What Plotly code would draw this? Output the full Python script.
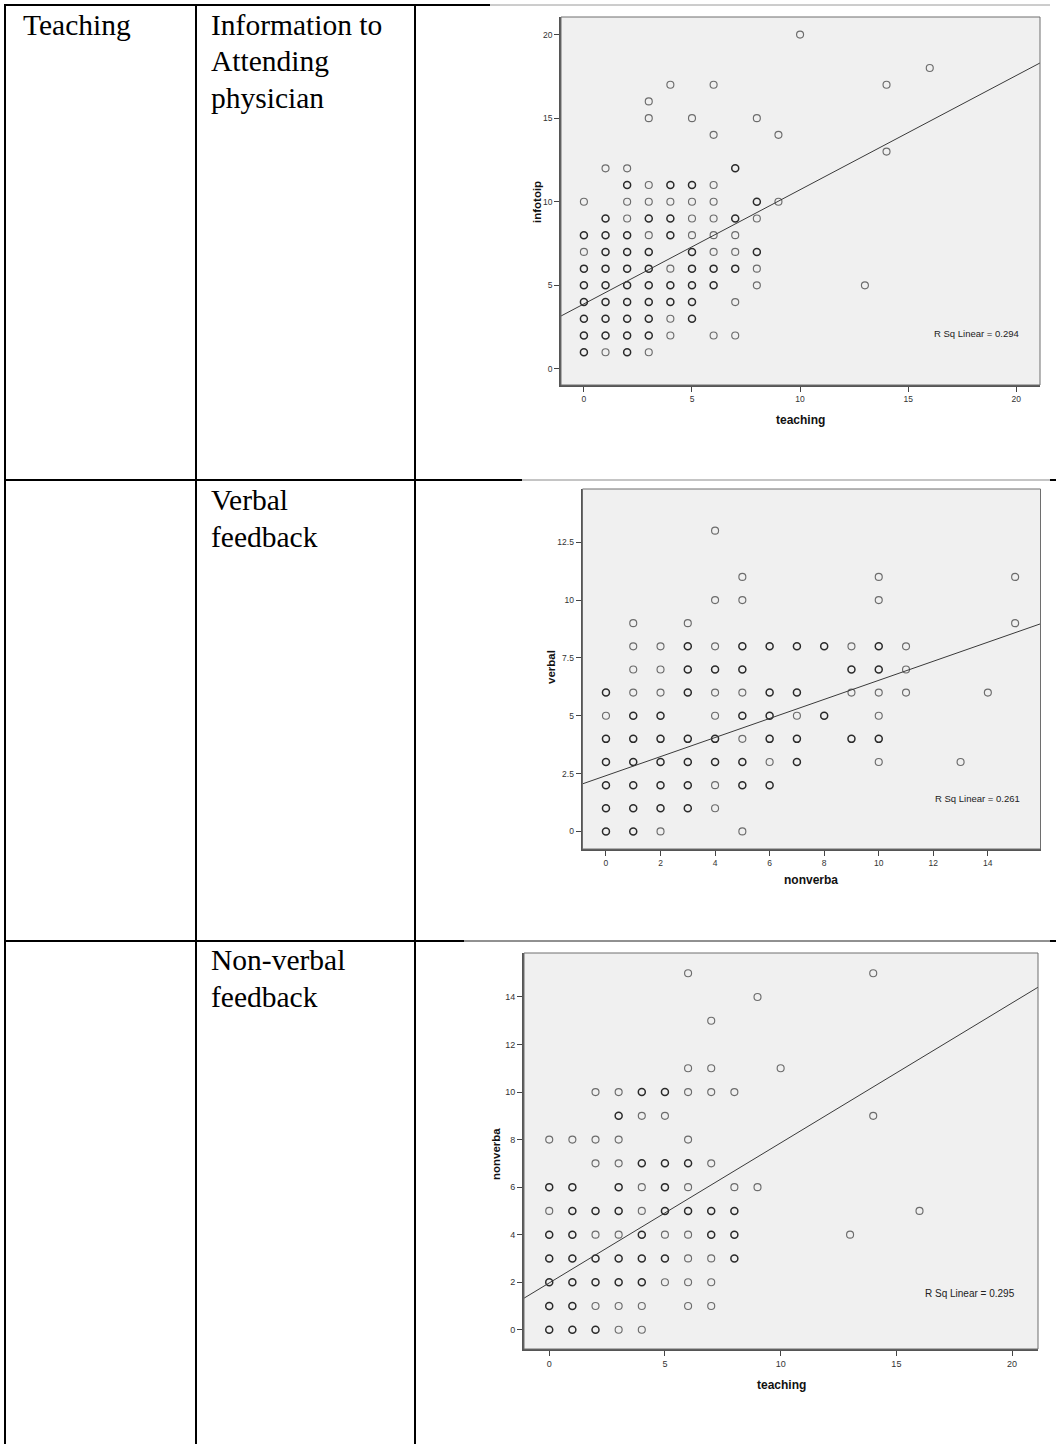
import plotly.graph_objects as go

W, H = 1056, 1444

# ---------------- table text ----------------
outcome_label = "Teaching"
row_labels = [
    ["Information to", "Attending", "physician"],
    ["Verbal", "feedback"],
    ["Non-verbal", "feedback"],
]

# ---------------- scatter 1: teaching vs infotoip ----------------
p1_rows_y = [20, 18, 17, 16, 15, 14, 13, 12, 11, 10, 9, 8, 7, 6, 5, 4, 3, 2, 1]
p1_rows_x = [
    [10],
    [16],
    [4, 6, 14],
    [3],
    [3, 5, 8],
    [6, 9],
    [14],
    [1, 2, 7],
    [2, 3, 4, 5, 6],
    [0, 2, 3, 4, 5, 6, 8, 9],
    [1, 2, 3, 4, 5, 6, 7, 8],
    [0, 1, 2, 3, 4, 5, 6, 7],
    [0, 1, 2, 3, 5, 6, 7, 8],
    [0, 1, 2, 3, 4, 5, 6, 7, 8],
    [0, 1, 2, 3, 4, 5, 6, 8, 13],
    [0, 1, 2, 3, 4, 5, 7],
    [0, 1, 2, 3, 4, 5],
    [0, 1, 2, 3, 4, 6, 7],
    [0, 1, 2, 3],
]
# cases stacked on each point (1 = single, 2 = several)
p1_rows_n = [
    [1],
    [1],
    [1, 1, 1],
    [1],
    [1, 1, 1],
    [1, 1],
    [1],
    [1, 1, 2],
    [2, 1, 2, 2, 1],
    [1, 1, 1, 1, 1, 1, 2, 1],
    [2, 1, 2, 2, 1, 1, 2, 1],
    [2, 2, 2, 1, 2, 1, 1, 1],
    [1, 2, 2, 2, 2, 1, 1, 2],
    [2, 2, 2, 2, 1, 2, 2, 2, 1],
    [2, 2, 2, 2, 2, 2, 2, 1, 1],
    [2, 2, 2, 2, 2, 2, 1],
    [2, 2, 2, 2, 1, 2],
    [2, 2, 2, 2, 1, 1, 1],
    [2, 1, 2, 1],
]

# ---------------- scatter 2: nonverba vs verbal ----------------
p2_rows_y = [13, 11, 10, 9, 8, 7, 6, 5, 4, 3, 2, 1, 0]
p2_rows_x = [
    [4],
    [5, 10, 15],
    [4, 5, 10],
    [1, 3, 15],
    [1, 2, 3, 4, 5, 6, 7, 8, 9, 10, 11],
    [1, 2, 3, 4, 5, 9, 10, 11],
    [0, 1, 2, 3, 4, 5, 6, 7, 9, 10, 11, 14],
    [0, 1, 2, 4, 5, 6, 7, 8, 10],
    [0, 1, 2, 3, 4, 5, 6, 7, 9, 10],
    [0, 1, 2, 3, 4, 5, 6, 7, 10, 13],
    [0, 1, 2, 3, 4, 5, 6],
    [0, 1, 2, 3, 4],
    [0, 1, 2, 5],
]
p2_rows_n = [
    [1],
    [1, 1, 1],
    [1, 1, 1],
    [1, 1, 1],
    [1, 1, 2, 1, 2, 2, 2, 2, 1, 2, 1],
    [1, 1, 2, 2, 2, 2, 2, 1],
    [2, 1, 1, 2, 1, 1, 2, 2, 1, 1, 1, 1],
    [1, 2, 2, 1, 2, 2, 1, 2, 1],
    [2, 2, 2, 2, 2, 1, 2, 2, 2, 2],
    [2, 2, 2, 2, 2, 2, 1, 2, 1, 1],
    [2, 2, 2, 2, 1, 2, 2],
    [2, 2, 2, 2, 1],
    [2, 2, 1, 1],
]

# ---------------- scatter 3: teaching vs nonverba ----------------
p3_rows_y = [15, 14, 13, 11, 10, 9, 8, 7, 6, 5, 4, 3, 2, 1, 0]
p3_rows_x = [
    [6, 14],
    [9],
    [7],
    [6, 7, 10],
    [2, 3, 4, 5, 6, 7, 8],
    [3, 4, 5, 14],
    [0, 1, 2, 3, 6],
    [2, 3, 4, 5, 6, 7],
    [0, 1, 3, 4, 5, 6, 8, 9],
    [0, 1, 2, 3, 4, 5, 6, 7, 8, 16],
    [0, 1, 2, 3, 4, 5, 6, 7, 8, 13],
    [0, 1, 2, 3, 4, 5, 6, 7, 8],
    [0, 1, 2, 3, 4, 5, 6, 7],
    [0, 1, 2, 3, 4, 6, 7],
    [0, 1, 2, 3, 4],
]
p3_rows_n = [
    [1, 1],
    [1],
    [1],
    [1, 1, 1],
    [1, 1, 2, 2, 1, 1, 1],
    [2, 1, 1, 1],
    [1, 1, 1, 1, 1],
    [1, 1, 2, 2, 2, 1],
    [2, 2, 2, 1, 2, 1, 1, 1],
    [1, 2, 2, 2, 1, 2, 2, 2, 2, 1],
    [2, 2, 1, 1, 2, 1, 1, 2, 2, 1],
    [2, 2, 2, 2, 2, 2, 1, 1, 2],
    [2, 2, 2, 2, 2, 1, 1, 1],
    [2, 2, 1, 1, 1, 1, 1],
    [2, 2, 2, 1, 1],
]

# linear fit lines and their R squared
fit_intercept = [3.89, 2.41, 1.97]
fit_slope = [0.683, 0.412, 0.589]
r_squared = [0.294, 0.261, 0.295]

x_titles = ["teaching", "nonverba", "teaching"]
y_titles = ["infotoip", "verbal", "nonverba"]

# ---------------- layout geometry (pixels) ----------------
panels = [
    dict(left=561, right=1040, top=17, bottom=385,
         xr=[-1.06, 21.1], yr=[-0.96, 21.05], xd=5, yd=5,
         xt=(800, 420), yt=(537, 202), r2=(20.2, 2.1), fs=8.5, r2fs=9.5),
    dict(left=582.5, right=1040.5, top=489, bottom=849,
         xr=[-0.86, 15.93], yr=[-0.76, 14.8], xd=2, yd=2.5,
         xt=(811, 880), yt=(551, 667), r2=(15.24, 1.44), fs=8.5, r2fs=9.5),
    dict(left=524, right=1038, top=953, bottom=1349,
         xr=[-1.09, 21.12], yr=[-0.81, 15.85], xd=5, yd=2,
         xt=(781, 1385), yt=(496, 1154), r2=(20.23, 1.54), fs=9, r2fs=10),
]
datasets = [
    (p1_rows_y, p1_rows_x, p1_rows_n),
    (p2_rows_y, p2_rows_x, p2_rows_n),
    (p3_rows_y, p3_rows_x, p3_rows_n),
]


def px_x(v):
    return v / W


def px_y(v):
    return 1 - v / H


fig = go.Figure()
shapes = []
annotations = []

sans = "Liberation Sans, Arial, sans-serif"

for i, (pan, (rows_y, rows_x, rows_n)) in enumerate(zip(panels, datasets)):
    k = "" if i == 0 else str(i + 1)
    xs, ys, ns = [], [], []
    for yv, xrow, nrow in zip(rows_y, rows_x, rows_n):
        for xv, nv in zip(xrow, nrow):
            xs.append(xv)
            ys.append(yv)
            ns.append(nv)
    colors = ["#2a2a2a" if n > 1 else "#6c6c6c" for n in ns]
    widths = [1.5 if n > 1 else 1.15 for n in ns]
    fig.add_trace(go.Scatter(
        x=xs, y=ys, mode="markers", xaxis="x" + k, yaxis="y" + k,
        marker=dict(symbol="circle-open", size=7, color=colors,
                    line=dict(width=widths, color=colors)),
        hoverinfo="skip", showlegend=False,
    ))
    # regression line across the whole axis span
    lx = pan["xr"]
    ly = [fit_intercept[i] + fit_slope[i] * v for v in lx]
    fig.add_trace(go.Scatter(
        x=lx, y=ly, mode="lines", xaxis="x" + k, yaxis="y" + k,
        line=dict(color="#3a3a3a", width=1), hoverinfo="skip", showlegend=False,
    ))

    axis_common = dict(
        showgrid=False, zeroline=False, showline=True, linecolor="#555555",
        linewidth=1.8, ticks="outside", ticklen=5, tickwidth=1.2, tickcolor="#444444",
        tickfont=dict(family=sans, size=pan["fs"], color="#333333"), fixedrange=True,
    )
    fig.update_layout(**{
        "xaxis" + k: dict(axis_common, domain=[px_x(pan["left"]), px_x(pan["right"])],
                          range=pan["xr"], tick0=0, dtick=pan["xd"], anchor="y" + k),
        "yaxis" + k: dict(axis_common, domain=[px_y(pan["bottom"]), px_y(pan["top"])],
                          range=pan["yr"], tick0=0, dtick=pan["yd"], anchor="x" + k),
    })
    # thin frame around the plotting area
    shapes.append(dict(type="rect", xref="x" + k + " domain", yref="y" + k + " domain",
                       x0=0, x1=1, y0=0, y1=1, line=dict(color="#6e6e6e", width=1),
                       fillcolor="rgba(0,0,0,0)", layer="above"))
    annotations.append(dict(
        x=px_x(pan["xt"][0]), y=px_y(pan["xt"][1]), xref="paper", yref="paper",
        text="<b>%s</b>" % x_titles[i], showarrow=False, xanchor="center", yanchor="middle",
        font=dict(family=sans, size=12, color="#111111"),
    ))
    annotations.append(dict(
        x=px_x(pan["yt"][0]), y=px_y(pan["yt"][1]), xref="paper", yref="paper",
        text="<b>%s</b>" % y_titles[i], showarrow=False, xanchor="center", yanchor="middle",
        textangle=-90,
        font=dict(family=sans, size=11.5, color="#111111"),
    ))
    annotations.append(dict(
        x=pan["r2"][0], y=pan["r2"][1], xref="x" + k, yref="y" + k,
        text="R Sq Linear = %.3f" % r_squared[i], showarrow=False,
        xanchor="right", yanchor="middle",
        font=dict(family=sans, size=pan["r2fs"], color="#222222"),
    ))

# ---------------- table rules ----------------
def hline(y, x0, x1, color="black", width=2):
    shapes.append(dict(type="line", xref="paper", yref="paper",
                       x0=px_x(x0), x1=px_x(x1), y0=px_y(y), y1=px_y(y),
                       line=dict(color=color, width=width), layer="above"))


def vline(x, y0, y1, color="black", width=2):
    shapes.append(dict(type="line", xref="paper", yref="paper",
                       x0=px_x(x), x1=px_x(x), y0=px_y(y0), y1=px_y(y1),
                       line=dict(color=color, width=width), layer="above"))


hline(5, 4, 490)
hline(5, 490, 1050, color="#9a9a9a", width=1)
hline(480, 4, 522)
hline(480, 522, 1050, color="#8a8a8a", width=1)
hline(480, 1050, 1056)
hline(941, 4, 464)
hline(941, 464, 1050, color="#222222", width=1)
hline(941, 1050, 1056)
vline(5, 4, 1444)
vline(196, 4, 1444)
vline(415, 4, 1444)

serif = dict(family="Liberation Serif, Times New Roman, serif", size=29.5, color="black")
annotations.append(dict(x=px_x(21), y=px_y(25), xref="paper", yref="paper",
                        text=outcome_label, showarrow=False, xanchor="left",
                        yanchor="middle", font=serif))
row_tops = [25, 500, 960]
for top, lines in zip(row_tops, row_labels):
    for j, line in enumerate(lines):
        annotations.append(dict(x=px_x(209), y=px_y(top + 36.5 * j), xref="paper",
                                yref="paper", text=line, showarrow=False, xanchor="left",
                                yanchor="middle", font=serif))

fig.update_layout(
    width=W, height=H, autosize=False,
    margin=dict(l=0, r=0, t=0, b=0),
    paper_bgcolor="white", plot_bgcolor="#f0f0f0",
    shapes=shapes, annotations=annotations,
    showlegend=False, hovermode=False,
)

fig.write_html("out.html", config={"displayModeBar": False})
